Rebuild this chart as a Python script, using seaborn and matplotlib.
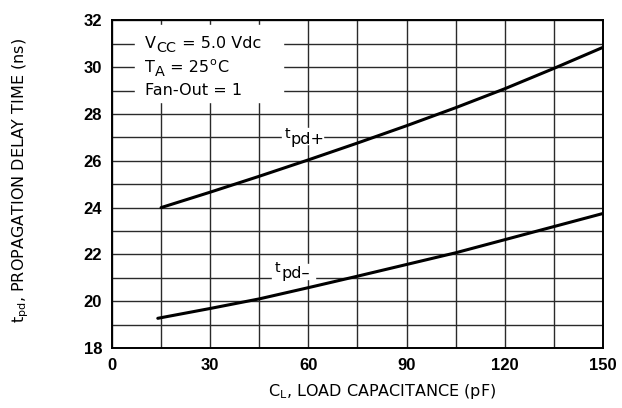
import numpy as np
import pandas as pd
import seaborn as sns
import matplotlib.pyplot as plt
from matplotlib.ticker import MultipleLocator

# values
cap_plus = [15, 30, 45, 60, 75, 90, 105, 120, 135, 150]
tpd_plus = [24.0, 24.66, 25.34, 26.04, 26.76, 27.5, 28.27, 29.08, 29.95, 30.85]
cap_minus = [14, 30, 45, 60, 75, 90, 105, 120, 135, 150]
tpd_minus = [19.27, 19.69, 20.1, 20.58, 21.07, 21.57, 22.07, 22.63, 23.19, 23.75]

x_ticks = [0, 30, 60, 90, 120, 150]
y_ticks = [18, 20, 22, 24, 26, 28, 30, 32]

sns.set_style("white")
plt.rcParams['font.family'] = ['DejaVu Sans']
plt.rcParams['mathtext.fontset'] = 'dejavusans'
plt.rcParams['text.color'] = 'black'
plt.rcParams['axes.labelcolor'] = 'black'
plt.rcParams['xtick.color'] = 'black'
plt.rcParams['ytick.color'] = 'black'


def chain_text(ax, x, y, parts, size=11):
    """Write text pieces one after another; each part is (text, dy_points, scale)."""
    first, dy, sc = parts[0]
    t = ax.text(x, y, first, fontsize=size * sc, va="center", zorder=4)
    for txt, dy, sc in parts[1:]:
        t = ax.annotate(txt, xy=(1, 0.5), xycoords=t, xytext=(0.3, dy),
                        textcoords="offset points", fontsize=size * sc,
                        va="center", ha="left", zorder=4)
    return t


df = pd.DataFrame({
    "cap": cap_plus + cap_minus,
    "tpd": tpd_plus + tpd_minus,
    "curve": ["plus"] * len(cap_plus) + ["minus"] * len(cap_minus),
})

fig = plt.figure(figsize=(6.22, 4.08), dpi=100)
ax = fig.add_axes([0.180, 0.147, 0.7895, 0.803])

sns.lineplot(data=df, x="cap", y="tpd", hue="curve", palette=["black", "black"],
             linewidth=2.2, legend=False, ax=ax, zorder=3)

ax.set_xlim(0, 150)
ax.set_ylim(18, 32)
ax.set_xticks(x_ticks)
ax.set_yticks(y_ticks)
ax.xaxis.set_minor_locator(MultipleLocator(15))
ax.yaxis.set_minor_locator(MultipleLocator(1))
ax.grid(which="both", color="#2a2a2a", linewidth=1.0)
ax.tick_params(which="both", length=0)
ax.tick_params(axis="x", pad=7)
ax.tick_params(axis="y", pad=7)
for lab in ax.get_xticklabels() + ax.get_yticklabels():
    lab.set_fontsize(12)
    lab.set_fontweight("bold")
    lab.set_family("Liberation Sans")
for sp in ax.spines.values():
    sp.set_color("black")
    sp.set_linewidth(1.4)

ax.set_xlabel(r"C$_{\mathregular{L}}$, LOAD CAPACITANCE (pF)", fontsize=11.5)
ax.set_ylabel(r"t$_{\mathregular{pd}}$, PROPAGATION DELAY TIME (ns)", fontsize=11.5)
ax.xaxis.set_label_coords(0.55, -0.105)
ax.yaxis.set_label_coords(-0.165, 0.51)

# white panel behind the condition notes
ax.fill_between([7, 52.3], 28.52, 31.8, color="white", zorder=2.5)
chain_text(ax, 10, 31, [("V", 0, 1), ("CC", -3, 0.9), (" = 5.0 Vdc", 3, 1)], size=11.5)
chain_text(ax, 10, 30, [("T", 0, 1), ("A", -3.5, 0.9), (" = 25", 3.5, 1), ("o", 3.5, 0.7), ("C", -3.5, 1)], size=11.5)
chain_text(ax, 10, 29, [("Fan-Out = 1", 0, 1)], size=11.5)

# curve labels, with white behind so the grid breaks around them
ax.fill_between([52, 64.5], 26.7, 27.4, color="white", zorder=2.5)
chain_text(ax, 52.8, 27.15, [("t", 0, 0.9), ("pd+", -4, 1)], size=11.5)
ax.fill_between([49, 62], 20.95, 21.6, color="white", zorder=2.5)
chain_text(ax, 49.8, 21.42, [("t", 0, 0.9), ("pd\u2013", -4, 1)], size=11.5)

fig.savefig("out.png", dpi=100)
